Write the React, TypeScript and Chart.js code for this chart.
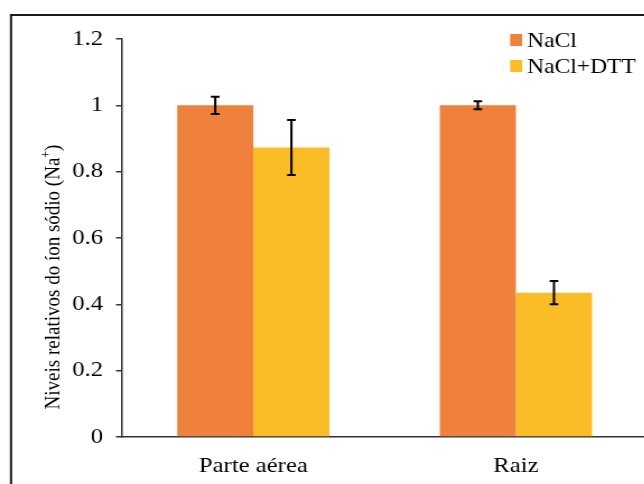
import React, { useEffect, useRef } from "react";
import { Chart, registerables } from "chart.js";

Chart.register(...registerables);

const categories = ["Parte aérea", "Raiz"];
const seriesNames = ["NaCl", "NaCl+DTT"];
const naclValues = [1.0, 1.0];
const naclErrors = [0.026, 0.012];
const dttValues = [0.873, 0.435];
const dttErrors = [0.083, 0.035];
const yTickValues = [0, 0.2, 0.4, 0.6, 0.8, 1, 1.2];
const yTitleMain = "Niveis relativos do íon sódio (Na";
const yTitleSup = "+";
const yTitleEnd = ")";
const seriesColors = ["#F0813C", "#FBBD27"];

const FONT = "'Liberation Serif', 'Times New Roman', serif";
// the reference is horizontally stretched; render narrower and stretch with CSS
const SX = 1.12;
const W = 590;
const H = 484;

export default function App() {
  const ref = useRef<HTMLCanvasElement | null>(null);

  useEffect(() => {
    const canvas = ref.current;
    if (!canvas) return;
    const errs = [naclErrors, dttErrors];

    const decor = {
      id: "decor",
      beforeDraw(chart: any) {
        const ctx = chart.ctx;
        ctx.save();
        ctx.fillStyle = "#ffffff";
        ctx.fillRect(0, 0, chart.width, chart.height);
        ctx.strokeStyle = "#1a1a1a";
        ctx.lineWidth = 2;
        ctx.strokeRect(11 / SX, 15, 1000, 1000);
        ctx.restore();
      },
      afterDatasetsDraw(chart: any) {
        const ctx = chart.ctx;
        const y = chart.scales.y;
        ctx.save();
        ctx.strokeStyle = "#000";
        ctx.lineWidth = 2;
        chart.data.datasets.forEach((ds: any, i: number) => {
          const meta = chart.getDatasetMeta(i);
          meta.data.forEach((bar: any, j: number) => {
            const v = ds.data[j];
            const e = errs[i][j];
            const yt = y.getPixelForValue(v + e);
            const yb = y.getPixelForValue(v - e);
            const x = bar.x;
            const hw = 4.3 / SX;
            ctx.beginPath();
            ctx.moveTo(x, yt);
            ctx.lineTo(x, yb);
            ctx.moveTo(x - hw, yt);
            ctx.lineTo(x + hw, yt);
            ctx.moveTo(x - hw, yb);
            ctx.lineTo(x + hw, yb);
            ctx.stroke();
          });
        });
        ctx.restore();
      },
      afterDraw(chart: any) {
        const ctx = chart.ctx;
        const y = chart.scales.y;
        ctx.save();
        // legend
        const lx = 510 / SX;
        const rows = [40, 66];
        seriesNames.forEach((name, i) => {
          ctx.fillStyle = seriesColors[i];
          ctx.fillRect(lx, rows[i] - 6, 12 / SX, 12);
          ctx.fillStyle = "#000";
          ctx.font = `21px ${FONT}`;
          ctx.textAlign = "left";
          ctx.textBaseline = "middle";
          ctx.fillText(name, lx + 17 / SX, rows[i] + 1);
        });
        // y title
        const cy = (y.top + y.bottom) / 2 + 39;
        ctx.translate(54 / SX, cy);
        ctx.rotate(-Math.PI / 2);
        ctx.font = `19px ${FONT}`;
        const w1 = ctx.measureText(yTitleMain).width;
        ctx.font = `12px ${FONT}`;
        const w2 = ctx.measureText(yTitleSup).width;
        ctx.font = `19px ${FONT}`;
        const w3 = ctx.measureText(yTitleEnd).width;
        const total = w1 + w2 + w3;
        let sx = -total / 2;
        ctx.fillStyle = "#000";
        ctx.textAlign = "left";
        ctx.textBaseline = "middle";
        ctx.fillText(yTitleMain, sx, 0);
        sx += w1;
        ctx.font = `12px ${FONT}`;
        ctx.fillText(yTitleSup, sx, -6);
        sx += w2;
        ctx.font = `19px ${FONT}`;
        ctx.fillText(yTitleEnd, sx, 0);
        ctx.restore();
      },
    };

    const chart = new Chart(canvas, {
      type: "bar",
      data: {
        labels: categories,
        datasets: [
          {
            label: seriesNames[0],
            data: naclValues,
            backgroundColor: seriesColors[0],
            categoryPercentage: 0.58,
            barPercentage: 1.0,
          },
          {
            label: seriesNames[1],
            data: dttValues,
            backgroundColor: seriesColors[1],
            categoryPercentage: 0.58,
            barPercentage: 1.0,
          },
        ],
      },
      options: {
        animation: false,
        responsive: false,
        maintainAspectRatio: false,
        devicePixelRatio: 1,
        layout: { padding: { top: 39, right: W - 647 / SX, left: 0, bottom: 0 } },
        plugins: {
          legend: { display: false },
          tooltip: { enabled: false },
          title: { display: false },
        },
        scales: {
          x: {
            afterFit: (s: any) => {
              s.height = 47;
            },
            grid: { display: true, drawOnChartArea: false, drawTicks: false, color: "#333" },
            border: { display: true, color: "#333", width: 1.5 },
            ticks: {
              color: "#000",
              font: { family: FONT, size: 22 },
              padding: 16,
            },
          },
          y: {
            min: 0,
            max: 1.2,
            afterFit: (s: any) => {
              s.width = 122 / SX;
            },
            afterBuildTicks: (s: any) => {
              s.ticks = yTickValues.map((v) => ({ value: v }));
            },
            grid: {
              display: true,
              drawOnChartArea: false,
              drawTicks: true,
              tickLength: 6 / SX,
              color: "#333",
              lineWidth: 1.5,
            },
            border: { display: true, color: "#333", width: 1.5 },
            ticks: {
              color: "#000",
              font: { family: FONT, size: 22 },
              padding: 13 / SX,
              callback: (v: any) => String(Number(Number(v).toFixed(1))),
            },
          },
        },
      },
      plugins: [decor],
    });

    return () => chart.destroy();
  }, []);

  return (
    <div
      style={{
        position: "fixed",
        left: 0,
        top: 0,
        width: 644,
        height: 484,
        overflow: "hidden",
        background: "#fff",
      }}
    >
      <canvas
        ref={ref}
        width={W}
        height={H}
        style={{ width: W * SX, height: H, display: "block" }}
      />
    </div>
  );
}
